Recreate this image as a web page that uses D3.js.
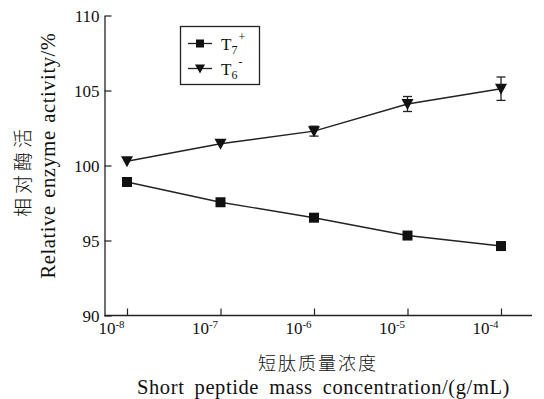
<!DOCTYPE html>
<html>
<head>
<meta charset="utf-8">
<script src="https://cdn.jsdelivr.net/npm/d3@7"></script>
<style>
  html, body { margin: 0; padding: 0; background: #fff; }
  svg { display: block; }
  text { font-family: "Liberation Serif", "Times New Roman", Times, serif; fill: #111; }
  text.cjk { font-family: "Noto Sans CJK SC", sans-serif; font-weight: 300; }
</style>
</head>
<body>
<svg id="chart" width="544" height="399"></svg>
<script>
// Short peptide mass concentration (g/mL), log-spaced
const concentrations = [1e-8, 1e-7, 1e-6, 1e-5, 1e-4];
const exponents = ["-8", "-7", "-6", "-5", "-4"];

// Relative enzyme activity (%)
const t7Values = [98.9, 97.55, 96.52, 95.33, 94.63];
const t6Values = [100.28, 101.45, 102.29, 104.1, 105.12];
const t6Errors = [0, 0, 0.33, 0.5, 0.78];

const yTicks = [90, 95, 100, 105, 110];

const svg = d3.select("#chart");

const x = d3.scaleLog().domain([1e-8, 1e-4]).range([127, 501]);
const y = d3.scaleLinear().domain([90, 110]).range([315.5, 15.5]);
const axisLeftX = 104.5;
const axisRightEnd = 532;

// Y axis with inward ticks
const yAxis = svg.append("g")
  .attr("transform", `translate(${axisLeftX},0)`)
  .call(d3.axisLeft(y).tickValues(yTicks).tickSizeInner(-7).tickSizeOuter(0).tickPadding(5));
yAxis.attr("font-family", null).attr("font-size", null);
yAxis.select(".domain").attr("stroke", "#222").attr("stroke-width", 1.3);
yAxis.selectAll(".tick line").attr("stroke", "#222").attr("stroke-width", 1.2);
yAxis.selectAll(".tick text")
  .style("font-size", "17px")
  .attr("dy", "0.36em")
  .attr("fill", "#111");

// X axis: baseline spans the full plot width, ticks point inward
const xAxis = svg.append("g")
  .attr("transform", `translate(0,${y(90)})`)
  .call(d3.axisBottom(x).tickValues(concentrations).tickSizeInner(-7).tickSizeOuter(0).tickFormat(() => ""));
xAxis.attr("font-family", null).attr("font-size", null);
xAxis.select(".domain").remove();
xAxis.selectAll(".tick text").remove();
xAxis.selectAll(".tick line").attr("stroke", "#222").attr("stroke-width", 1.2);
xAxis.append("line")
  .attr("x1", axisLeftX).attr("x2", axisRightEnd)
  .attr("y1", 0).attr("y2", 0)
  .attr("stroke", "#222").attr("stroke-width", 1.3);
xAxis.selectAll(".tick").each(function(d, i) {
  const t = d3.select(this).append("text")
    .attr("x", -16).attr("y", 18)
    .style("font-size", "17px");
  t.append("tspan").text("10");
  t.append("tspan").style("font-size", "11px").attr("dy", -6).text(exponents[i]);
});

// Series lines
const line = d3.line().x((d, i) => x(concentrations[i])).y(d => y(d));

svg.append("path").datum(t7Values)
  .attr("d", line).attr("fill", "none").attr("stroke", "#222").attr("stroke-width", 1.4);
svg.append("path").datum(t6Values)
  .attr("d", line).attr("fill", "none").attr("stroke", "#222").attr("stroke-width", 1.4);

// Error bars for T6-
const errG = svg.append("g").attr("stroke", "#222").attr("stroke-width", 1.3);
t6Values.forEach((v, i) => {
  const e = t6Errors[i];
  if (!e) return;
  const cx = x(concentrations[i]);
  errG.append("line").attr("x1", cx).attr("x2", cx).attr("y1", y(v + e)).attr("y2", y(v - e));
  errG.append("line").attr("x1", cx - 4.5).attr("x2", cx + 4.5).attr("y1", y(v + e)).attr("y2", y(v + e));
  errG.append("line").attr("x1", cx - 4.5).attr("x2", cx + 4.5).attr("y1", y(v - e)).attr("y2", y(v - e));
});

// Markers
const squareSym = d3.symbol().type(d3.symbolSquare).size(100);
const triDown = "M-6,-5L6,-5L0,6Z";

svg.append("g").selectAll("path").data(t7Values).join("path")
  .attr("transform", (d, i) => `translate(${x(concentrations[i])},${y(d)})`)
  .attr("d", squareSym()).attr("fill", "#111");

svg.append("g").selectAll("path").data(t6Values).join("path")
  .attr("transform", (d, i) => `translate(${x(concentrations[i])},${y(d)})`)
  .attr("d", triDown).attr("fill", "#111");

// Legend
const legend = svg.append("g");
legend.append("rect")
  .attr("x", 180.5).attr("y", 26.5).attr("width", 79).attr("height", 58)
  .attr("fill", "#fff").attr("stroke", "#222").attr("stroke-width", 1.3);
const legendRows = [
  { yPos: 43.5, marker: squareSym.size(64)(), sub: "7", sup: "+" },
  { yPos: 68.5, marker: "M-5,-4L5,-4L0,5Z", sub: "6", sup: "-" }
];
legendRows.forEach(r => {
  legend.append("line").attr("x1", 188).attr("x2", 212).attr("y1", r.yPos).attr("y2", r.yPos)
    .attr("stroke", "#222").attr("stroke-width", 1.3);
  legend.append("path").attr("d", r.marker)
    .attr("transform", `translate(200,${r.yPos})`).attr("fill", "#111");
  const t = legend.append("text").attr("x", 221).attr("y", r.yPos + 6).style("font-size", "17px");
  t.append("tspan").text("T");
  t.append("tspan").style("font-size", "12px").attr("dy", 4).text(r.sub);
  t.append("tspan").style("font-size", "12px").attr("dx", 1).attr("dy", -13).text(r.sup);
});

// Spread words so a title fills the given length
function fitWords(sel, target) {
  const node = sel.node();
  const natural = node.getComputedTextLength();
  const gaps = (sel.text().match(/ /g) || []).length;
  if (gaps > 0 && natural < target) sel.attr("word-spacing", (target - natural) / gaps);
}

// Y axis title (two lines, rotated)
svg.append("text")
  .attr("class", "cjk")
  .attr("transform", "translate(30,171) rotate(-90)")
  .attr("text-anchor", "middle")
  .style("font-size", "19px")
  .attr("letter-spacing", 4)
  .text("相对酶活");
const yTitle = svg.append("text")
  .attr("transform", "translate(55,155.5) rotate(-90)")
  .attr("text-anchor", "middle")
  .style("font-size", "20.5px")
  .attr("letter-spacing", 0.6)
  .text("Relative enzyme activity/%");
fitWords(yTitle, 246);

// X axis title (two lines)
svg.append("text")
  .attr("class", "cjk")
  .attr("x", 318).attr("y", 370)
  .attr("text-anchor", "middle")
  .style("font-size", "18px")
  .attr("letter-spacing", 2)
  .text("短肽质量浓度");
const xTitle = svg.append("text")
  .attr("x", 323.5).attr("y", 394)
  .attr("text-anchor", "middle")
  .style("font-size", "20.5px")
  .attr("letter-spacing", 0.6)
  .text("Short peptide mass concentration/(g/mL)");
fitWords(xTitle, 373);
</script>
</body>
</html>
